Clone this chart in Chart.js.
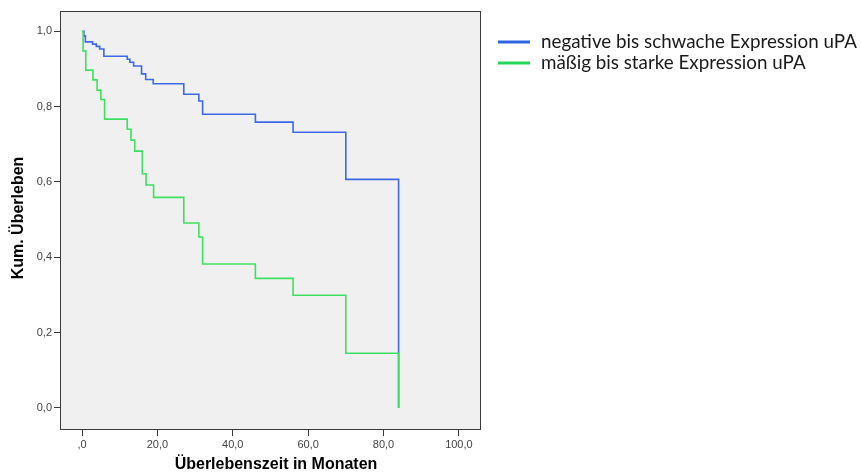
<!DOCTYPE html>
<html>
<head>
<meta charset="utf-8">
<script src="https://cdn.jsdelivr.net/npm/chart.js@4"></script>
<style>
  html, body { margin: 0; padding: 0; background: #fff; }
  #wrap { width: 861px; height: 476px; }
</style>
</head>
<body>
<div id="wrap"><canvas id="kmChart" width="861" height="476"></canvas></div>
<script>
// Kaplan-Meier steps (months, cumulative survival)
const blueTimes = [0, 0.5, 0.9, 2.8, 3.8, 4.7, 5.8, 12.0, 12.7, 13.7, 15.8, 16.9, 18.9, 27.0, 31.0, 32.0, 46.0, 56.0, 70.0, 84.0];
const blueSurv  = [1.0, 0.988, 0.972, 0.966, 0.960, 0.953, 0.934, 0.926, 0.918, 0.908, 0.887, 0.872, 0.861, 0.833, 0.815, 0.780, 0.759, 0.732, 0.607, 0.0];

const greenTimes = [0, 0.3, 1.0, 2.9, 4.0, 5.0, 6.0, 12.0, 13.0, 14.0, 16.0, 17.0, 19.0, 27.0, 31.0, 32.0, 46.0, 56.0, 70.0, 84.0];
const greenSurv  = [1.0, 0.948, 0.897, 0.871, 0.844, 0.819, 0.767, 0.740, 0.711, 0.682, 0.622, 0.592, 0.559, 0.491, 0.454, 0.382, 0.344, 0.299, 0.145, 0.0];

const seriesLabels = ['negative bis schwache Expression uPA', 'mäßig bis starke Expression uPA'];
const xTicks = [0, 20, 40, 60, 80, 100];
const yTicks = [0, 0.2, 0.4, 0.6, 0.8, 1.0];

const xTitle = 'Überlebenszeit in Monaten';
const yTitle = 'Kum. Überleben';

const BLUE = '#3d68e6';
const GREEN = '#3ee060';

function toPoints(xs, ys) {
    return xs.map((x, i) => ({ x: x, y: ys[i] }));
}

function fmtComma(v) {
    return v.toFixed(1).replace('.', ',');
}

// plot background, frame, axis titles and legend
const decor = {
    id: 'decor',
    beforeDraw(chart) {
        const { ctx, chartArea: a } = chart;
        ctx.save();
        ctx.fillStyle = '#f0f0f0';
        ctx.fillRect(a.left, a.top, a.right - a.left, a.bottom - a.top);
        ctx.restore();
    },
    afterDraw(chart) {
        const { ctx, chartArea: a } = chart;
        ctx.save();
        ctx.strokeStyle = '#3a3a3a';
        ctx.lineWidth = 1;
        ctx.strokeRect(Math.round(a.left) + 0.5, Math.round(a.top) + 0.5,
            Math.round(a.right - a.left), Math.round(a.bottom - a.top));

        // axis titles
        ctx.fillStyle = '#000';
        ctx.font = 'bold 16px "Liberation Sans", Arial, sans-serif';
        ctx.textAlign = 'center';
        ctx.textBaseline = 'middle';
        ctx.fillText(xTitle, 276, 465);
        ctx.translate(19, 218);
        ctx.rotate(-Math.PI / 2);
        ctx.fillText(yTitle, 0, 0);
        ctx.restore();

        // legend
        ctx.save();
        ctx.font = '18.8px Lato, "Open Sans", sans-serif';
        ctx.textAlign = 'left';
        ctx.textBaseline = 'middle';
        const rows = [[seriesLabels[0], '#2f64e2', 42], [seriesLabels[1], '#22d65a', 63]];
        rows.forEach(r => {
            ctx.strokeStyle = r[1];
            ctx.lineWidth = 3;
            ctx.beginPath();
            ctx.moveTo(498, r[2]);
            ctx.lineTo(530, r[2]);
            ctx.stroke();
            ctx.fillStyle = '#1a1a1a';
            ctx.fillText(r[0], 541, r[2]);
        });
        ctx.restore();
    }
};

new Chart(document.getElementById('kmChart'), {
    type: 'line',
    data: {
        datasets: [{
            label: seriesLabels[0],
            data: toPoints(blueTimes, blueSurv),
            borderColor: BLUE,
            borderWidth: 1.6,
            pointRadius: 0,
            stepped: 'before',
            fill: false,
            order: 1
        }, {
            label: seriesLabels[1],
            data: toPoints(greenTimes, greenSurv),
            borderColor: GREEN,
            borderWidth: 1.6,
            pointRadius: 0,
            stepped: 'before',
            fill: false,
            order: 0
        }]
    },
    options: {
        responsive: false,
        animation: false,
        layout: { padding: { top: 11, right: 381, bottom: 0, left: 0 } },
        plugins: { legend: { display: false }, tooltip: { enabled: false } },
        scales: {
            x: {
                type: 'linear',
                min: -5.84,
                max: 105.6,
                afterBuildTicks: s => { s.ticks = xTicks.map(v => ({ value: v })); },
                afterFit: s => { s.height = 47; },
                grid: { display: true, drawOnChartArea: false, tickLength: 7, color: '#3a3a3a' },
                border: { display: false },
                ticks: {
                    padding: 2,
                    color: '#444',
                    font: { family: '"Liberation Sans", Arial, sans-serif', size: 11 },
                    maxRotation: 0,
                    callback: v => v === 0 ? ',0' : fmtComma(v)
                }
            },
            y: {
                type: 'linear',
                min: -0.056,
                max: 1.054,
                afterBuildTicks: s => { s.ticks = yTicks.map(v => ({ value: v })); },
                afterFit: s => { s.width = 60; },
                grid: { display: true, drawOnChartArea: false, tickLength: 6, color: '#3a3a3a' },
                border: { display: false },
                ticks: {
                    padding: 2,
                    color: '#444',
                    font: { family: '"Liberation Sans", Arial, sans-serif', size: 11 },
                    callback: v => fmtComma(v)
                }
            }
        }
    },
    plugins: [decor]
});
</script>
</body>
</html>
